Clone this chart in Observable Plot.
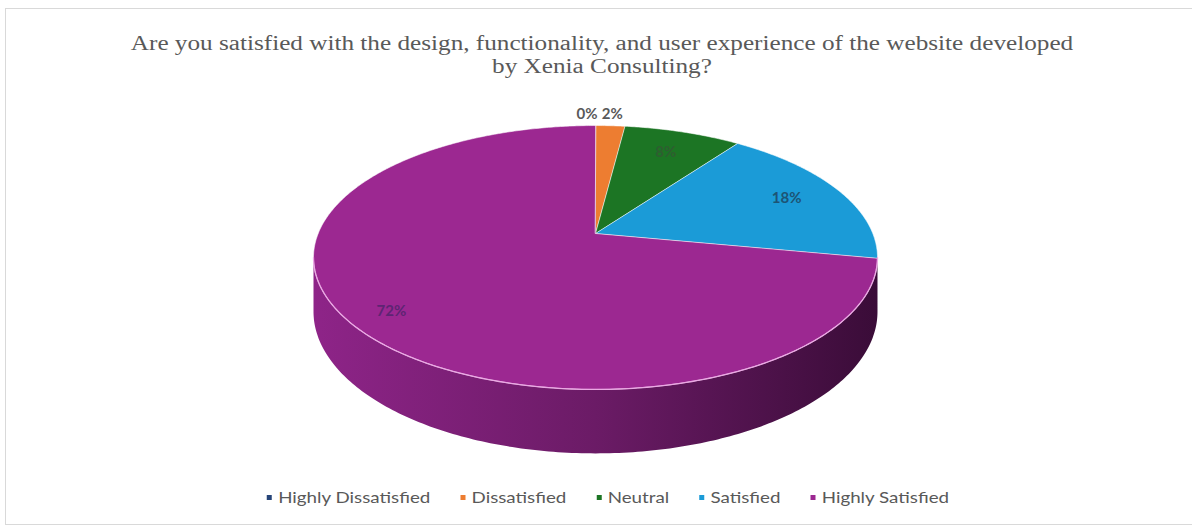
<!DOCTYPE html>
<html>
<head>
<meta charset="utf-8">
<script src="https://cdn.jsdelivr.net/npm/d3@7"></script>
<script src="https://cdn.jsdelivr.net/npm/@observablehq/plot@0.6"></script>
<style>
  html, body { margin: 0; padding: 0; background: #fff; width: 1192px; height: 528px; overflow: hidden; }
  #frame { position: absolute; left: 5px; top: 8px; width: 1192px; height: 517px; border: 1px solid #d9d9d9; box-sizing: border-box; }
  #title { position: absolute; left: 2px; top: 32px; width: 1200px; text-align: center; font-family: "Liberation Serif", serif; font-size: 20px; line-height: 23px; color: #595959; transform: scaleX(1.26); transform-origin: 600px 0; }
  #chart { position: absolute; left: 0; top: 95px; }
  #legend { position: absolute; left: 0; top: 488px; width: 1216px; display: flex; justify-content: center; gap: 24px; font-family: Lato, sans-serif; font-size: 15px; color: #595959; transform: scaleX(1.25); transform-origin: 608px 0; }
  .item { display: flex; align-items: center; gap: 5px; }
  .sw { width: 4px; height: 5px; display: inline-block; }
</style>
</head>
<body>
<div id="frame"></div>
<div id="title">Are you satisfied with the design, functionality, and user experience of the website developed<br>by Xenia Consulting?</div>
<div id="chart"></div>
<div id="legend"></div>
<script>
// ---- data ----
const categories = ["Highly Dissatisfied", "Dissatisfied", "Neutral", "Satisfied", "Highly Satisfied"];
const percentages = [0, 2, 8, 18, 72];
const colors = ["#264478", "#ED7D31", "#1C7524", "#1B9BD7", "#9C2891"];
const labelColors = ["#595959", "#595959", "#2E5E30", "#1D5474", "#5E2473"];

// ---- perspective pie geometry (abstract units) ----
const k = 0.1818;      // perspective strength
const thick = 0.41;    // pie thickness
function proj(theta, r) {
  const u = r * Math.sin(theta), v = r * Math.cos(theta);
  const w = 1 + k * v;
  return {x: u / w, y: v / w, w};
}
const total = d3.sum(percentages);
const slices = [];
let cum = 0;
categories.forEach((c, i) => {
  const a0 = cum / total * 2 * Math.PI;
  cum += percentages[i];
  const a1 = cum / total * 2 * Math.PI;
  slices.push({cat: c, value: percentages[i], a0, a1, color: colors[i], labelColor: labelColors[i], idx: i});
});

function wedge(s) {
  const pts = [{x: 0, y: 0}];
  const n = Math.max(2, Math.ceil((s.a1 - s.a0) / 0.01));
  for (let j = 0; j <= n; j++) {
    const p = proj(s.a0 + (s.a1 - s.a0) * j / n, 1);
    pts.push({x: p.x, y: p.y});
  }
  return pts;
}

// side (front visible part of the cylinder)
const th1 = Math.acos(-k), th2 = 2 * Math.PI - th1;
const topRim = [], sidePts = [];
for (let j = 0; j <= 200; j++) {
  const p = proj(th1 + (th2 - th1) * j / 200, 1);
  topRim.push({x: p.x, y: p.y});
  sidePts.push({x: p.x, y: p.y});
}
for (let j = 200; j >= 0; j--) {
  const p = proj(th1 + (th2 - th1) * j / 200, 1);
  sidePts.push({x: p.x, y: p.y - thick / p.w});
}

// labels
const labels = slices.map(s => {
  const mid = (s.a0 + s.a1) / 2;
  const outside = s.value < 5;
  const p = proj(mid, outside ? 1.13 : (s.value > 50 ? 0.86 : 0.78));
  return {x: p.x, y: p.y, text: s.value + "%", color: s.labelColor, outside, idx: s.idx};
});
const outsideLabels = labels.filter(d => d.outside);
const insideLabels = labels.filter(d => !d.outside);

const marks = [
  Plot.line(sidePts, {x: "x", y: "y", curve: "linear-closed", fill: "url(#sideGrad)", stroke: "none"}),
];
slices.filter(s => s.value > 0).forEach(s => {
  marks.push(Plot.line(wedge(s), {x: "x", y: "y", curve: "linear-closed", fill: s.color, stroke: "#ffffff", strokeOpacity: 0.55, strokeWidth: 1}));
});
marks.push(Plot.line(topRim, {x: "x", y: "y", stroke: "#EBA8E4", strokeWidth: 1.3}));
marks.push(Plot.text(insideLabels, {x: "x", y: "y", text: "text", fill: "color", fontWeight: "bold", fontSize: 15, fontFamily: "Lato, sans-serif"}));
// outside labels: first one to the left of its anchor, the rest to the right
marks.push(Plot.text(outsideLabels.slice(0, 1), {x: "x", y: "y", text: "text", fill: "color", fontWeight: "bold", fontSize: 15, fontFamily: "Lato, sans-serif", textAnchor: "end", dx: 2}));
marks.push(Plot.text(outsideLabels.slice(1), {x: "x", y: "y", text: "text", fill: "color", fontWeight: "bold", fontSize: 15, fontFamily: "Lato, sans-serif", textAnchor: "start", dx: -10}));

const cx = 595, cy = 138, A = 277.3, B = 127.6;
const svg = Plot.plot({
  width: 1192,
  height: 380,
  margin: 0,
  x: {type: "linear", domain: [-1, 1], range: [cx - A, cx + A], axis: null},
  y: {type: "linear", domain: [-1, 1], range: [cy + B, cy - B], axis: null},
  color: {type: "identity"},
  marks
});
const defs = d3.select(svg).insert("defs", ":first-child");
const g = defs.append("linearGradient").attr("id", "sideGrad").attr("x1", 0).attr("x2", 1).attr("y1", 0).attr("y2", 0);
g.append("stop").attr("offset", 0).attr("stop-color", "#8E2488");
g.append("stop").attr("offset", 0.5).attr("stop-color", "#6B1B66");
g.append("stop").attr("offset", 1).attr("stop-color", "#3A0C38");
document.getElementById("chart").appendChild(svg);

// legend
const leg = d3.select("#legend");
categories.forEach((c, i) => {
  const it = leg.append("div").attr("class", "item");
  it.append("span").attr("class", "sw").style("background", colors[i]);
  it.append("span").text(c);
});
</script>
</body>
</html>
